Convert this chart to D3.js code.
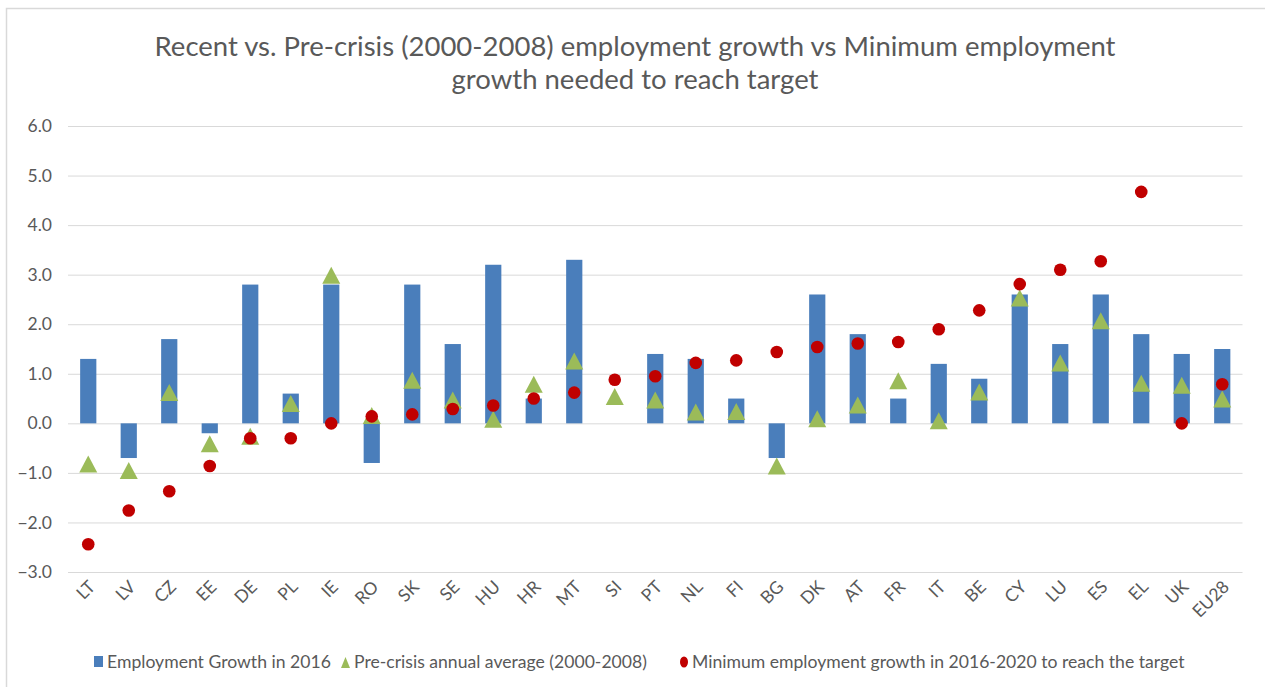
<!DOCTYPE html>
<html>
<head>
<meta charset="utf-8">
<script src="https://cdn.jsdelivr.net/npm/d3@7"></script>
<style>
  html, body { margin: 0; padding: 0; background: #fff; }
  svg { display: block; font-family: Lato, "Open Sans", sans-serif; }
</style>
</head>
<body>
<svg id="chart" width="1265" height="687"></svg>
<script>
// Member states, ordered by the growth needed to reach the 2020 target
const countries = ["LT","LV","CZ","EE","DE","PL","IE","RO","SK","SE","HU","HR","MT","SI","PT",
                   "NL","FI","BG","DK","AT","FR","IT","BE","CY","LU","ES","EL","UK","EU28"];

// Employment growth in 2016 (%), no figure for SI
const growth2016 = [1.3,-0.7,1.7,-0.2,2.8,0.6,2.8,-0.8,2.8,1.6,3.2,0.5,3.3,null,1.4,
                    1.3,0.5,-0.7,2.6,1.8,0.5,1.2,0.9,2.6,1.6,2.6,1.8,1.4,1.5];

// Pre-crisis annual average employment growth, 2000-2008 (%)
const preCrisisAvg = [-0.82,-0.95,0.62,-0.41,-0.26,0.40,2.99,0.16,0.87,0.47,0.08,0.79,1.26,0.54,0.47,
                      0.23,0.24,-0.86,0.09,0.37,0.86,0.05,0.63,2.53,1.22,2.07,0.81,0.77,0.49];

// Minimum annual employment growth 2016-2020 needed to reach the target (%)
const minNeeded = [-2.44,-1.76,-1.37,-0.86,-0.30,-0.30,0.00,0.14,0.18,0.29,0.36,0.50,0.62,0.88,0.95,
                   1.22,1.27,1.44,1.54,1.61,1.64,1.90,2.28,2.81,3.10,3.27,4.67,0.00,0.79];

const yTicks = [-3,-2,-1,0,1,2,3,4,5,6];

const titleLines = ["Recent vs. Pre-crisis (2000-2008) employment growth vs Minimum employment",
                    "growth needed to reach target"];
const legendLabels = ["Employment Growth in 2016",
                      "Pre-crisis annual average (2000-2008)",
                      "Minimum employment growth in 2016-2020 to reach the target"];

const colors = { bar: "#4A7EBB", tri: "#9BBB59", dot: "#C00000", grid: "#D9D9D9", text: "#595959" };

const rows = countries.map((c, i) => ({ c, g: growth2016[i], p: preCrisisAvg[i], m: minNeeded[i] }));

const svg = d3.select("#chart");
const plot = { left: 68, right: 1242.5, top: 126, bottom: 572 };

// chart frame
svg.append("rect")
  .attr("x", 6.5).attr("y", 8.5).attr("width", 1270).attr("height", 690)
  .attr("fill", "none").attr("stroke", "#D9D9D9").attr("stroke-width", 1.5);

const x = d3.scaleBand().domain(countries).range([plot.left, plot.right])
  .paddingInner(0.6).paddingOuter(0.3);
const y = d3.scaleLinear().domain([-3, 6]).range([plot.bottom, plot.top]);
const cx = c => x(c) + x.bandwidth() / 2;

// title
svg.append("g").selectAll("text").data(titleLines).join("text")
  .attr("x", 635).attr("y", (d, i) => 56 + i * 33)
  .attr("text-anchor", "middle").attr("fill", colors.text)
  .attr("font-size", 27.5).text(d => d);

// y axis: gridlines + labels
const yAxis = svg.append("g").attr("transform", `translate(${plot.left},0)`)
  .call(d3.axisLeft(y).tickValues(yTicks).tickFormat(d3.format(".1f"))
    .tickSize(-(plot.right - plot.left)).tickPadding(16));
yAxis.select(".domain").remove();
yAxis.selectAll(".tick line").attr("stroke", colors.grid).attr("stroke-width", 1);
yAxis.selectAll(".tick text").attr("fill", colors.text).attr("font-size", 17.5)
  .attr("font-family", "Lato, 'Open Sans', sans-serif");

// x axis labels rotated
const xAxis = svg.append("g").attr("transform", `translate(0,${plot.bottom})`)
  .call(d3.axisBottom(x).tickSize(0).tickPadding(0));
xAxis.select(".domain").remove();
xAxis.selectAll(".tick text")
  .attr("fill", colors.text).attr("font-size", 17.5)
  .attr("font-family", "Lato, 'Open Sans', sans-serif")
  .attr("text-anchor", "end").attr("dy", 0).attr("y", 0)
  .attr("transform", "translate(8,16) rotate(-45)");

// bars
svg.append("g").selectAll("rect").data(rows.filter(d => d.g !== null)).join("rect")
  .attr("x", d => x(d.c)).attr("width", x.bandwidth())
  .attr("y", d => y(Math.max(0, d.g)))
  .attr("height", d => Math.abs(y(d.g) - y(0)))
  .attr("fill", colors.bar);

// triangle markers, centred on their value
const triPath = (px, py) => `M${px},${py - 8.5}L${px + 9},${py + 8.5}L${px - 9},${py + 8.5}Z`;
svg.append("g").selectAll("path").data(rows).join("path")
  .attr("d", d => triPath(cx(d.c), y(d.p)))
  .attr("fill", colors.tri);

// circle markers
svg.append("g").selectAll("circle").data(rows).join("circle")
  .attr("cx", d => cx(d.c)).attr("cy", d => y(d.m)).attr("r", 6.3)
  .attr("fill", colors.dot);

// legend
const legend = svg.append("g").attr("transform", "translate(0,662)");
const legendX = [97, 344, 682];
const lg = legend.selectAll("g").data(legendLabels).join("g")
  .attr("transform", (d, i) => `translate(${legendX[i]},0)`);
lg.append("text").attr("x", 10).attr("y", 6).attr("font-size", 17.6)
  .attr("fill", colors.text).text(d => d);
lg.filter((d, i) => i === 0).append("rect")
  .attr("x", -3).attr("y", -6).attr("width", 9).attr("height", 11).attr("fill", colors.bar);
lg.filter((d, i) => i === 1).append("path")
  .attr("d", "M1.5,-5L6,6L-3,6Z").attr("fill", colors.tri);
lg.filter((d, i) => i === 2).append("ellipse")
  .attr("cx", 2).attr("cy", 0).attr("rx", 4).attr("ry", 5.5).attr("fill", colors.dot);
</script>
</body>
</html>
